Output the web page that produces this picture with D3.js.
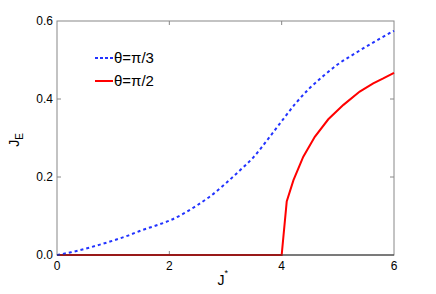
<!DOCTYPE html>
<html>
<head>
<meta charset="utf-8">
<script src="https://cdn.jsdelivr.net/npm/d3@7"></script>
<style>
  body { margin: 0; background: #fff; }
  text { font-family: "Liberation Sans", Arial, sans-serif; fill: #000; }
</style>
</head>
<body>
<div id="grafico"></div>
<script>
// data
const jBlue   = [0, 0.25, 0.5, 0.75, 1.0, 1.25, 1.5, 1.75, 2.0, 2.25, 2.5, 2.75, 3.0, 3.25, 3.5, 3.75, 4.0, 4.25, 4.5, 4.75, 5.0, 5.25, 5.5, 5.75, 6.0];
const eBlue   = [0, 0.007, 0.016, 0.026, 0.037, 0.049, 0.063, 0.075, 0.088, 0.106, 0.128, 0.153, 0.183, 0.216, 0.251, 0.296, 0.343, 0.389, 0.428, 0.460, 0.489, 0.512, 0.534, 0.555, 0.575];

const jRed    = [0, 4.0, 4.09, 4.21, 4.385, 4.59, 4.83, 5.10, 5.39, 5.63, 5.80, 6.0];
const eRed    = [0, 0, 0.137, 0.192, 0.252, 0.303, 0.348, 0.385, 0.419, 0.440, 0.452, 0.467];

const xTicks  = [0, 2, 4, 6];
const yTicks  = [0, 0.2, 0.4, 0.6];
const legendLabels = ["θ=π/3", "θ=π/2"];

const margin = { top: 21, left: 57, bottom: 39, right: 42 };
const width  = 436 - margin.left - margin.right;
const height = 294 - margin.top - margin.bottom;

const svg = d3.select("#grafico")
              .append("svg")
              .attr("width", 436)
              .attr("height", 294)
              .append("g")
              .attr("transform", `translate(${margin.left}, ${margin.top})`);

const xScale = d3.scaleLinear().domain([0, 6]).range([0, width]);
const yScale = d3.scaleLinear().domain([0, 0.6]).range([height, 0]);

// box
svg.append("rect")
   .attr("width", width)
   .attr("height", height)
   .attr("fill", "none")
   .attr("stroke", "#888")
   .attr("stroke-width", 1);

// inward ticks on all sides
const tickLen = 4;
xTicks.slice(1, -1).forEach(t => {
    svg.append("line").attr("x1", xScale(t)).attr("x2", xScale(t))
       .attr("y1", height).attr("y2", height - tickLen).attr("stroke", "#888");
    svg.append("line").attr("x1", xScale(t)).attr("x2", xScale(t))
       .attr("y1", 0).attr("y2", tickLen).attr("stroke", "#888");
});
yTicks.slice(1, -1).forEach(t => {
    svg.append("line").attr("x1", 0).attr("x2", tickLen)
       .attr("y1", yScale(t)).attr("y2", yScale(t)).attr("stroke", "#888");
    svg.append("line").attr("x1", width).attr("x2", width - tickLen)
       .attr("y1", yScale(t)).attr("y2", yScale(t)).attr("stroke", "#888");
});

// tick labels
svg.selectAll(".xl")
   .data(xTicks)
   .join("text")
   .attr("x", d => xScale(d))
   .attr("y", height + 15)
   .attr("text-anchor", "middle")
   .style("font-size", "12px")
   .text(d => d);

svg.selectAll(".yl")
   .data(yTicks)
   .join("text")
   .attr("x", -4)
   .attr("y", d => yScale(d) + 4)
   .attr("text-anchor", "end")
   .style("font-size", "12px")
   .text(d => d.toFixed(1));

// curves
const blue = jBlue.map((j, i) => [j, eBlue[i]]);
const red  = jRed.map((j, i) => [j, eRed[i]]);

const line = d3.line()
               .x(d => xScale(d[0]))
               .y(d => yScale(d[1]));

svg.append("path")
   .datum(red)
   .attr("d", line)
   .attr("fill", "none")
   .attr("stroke", "#ff0000")
   .attr("stroke-width", 2);

svg.append("path")
   .datum(blue)
   .attr("d", line.curve(d3.curveMonotoneX))
   .attr("fill", "none")
   .attr("stroke", "#2233ff")
   .attr("stroke-width", 2)
   .attr("stroke-dasharray", "3,3");

// bottom axis drawn darker over the red baseline
svg.append("line")
   .attr("x1", 0).attr("x2", width)
   .attr("y1", height).attr("y2", height)
   .attr("stroke", "#333");

// legend
const legend = svg.append("g").attr("transform", "translate(38, 37)");
const legendStyles = [
    { color: "#2233ff", dash: "3,2" },
    { color: "#ff0000", dash: null }
];
legendLabels.forEach((lab, i) => {
    const y = i * 23;
    legend.append("line")
          .attr("x1", 0).attr("x2", 18)
          .attr("y1", y).attr("y2", y)
          .attr("stroke", legendStyles[i].color)
          .attr("stroke-width", 2)
          .attr("stroke-dasharray", legendStyles[i].dash);
    legend.append("text")
          .attr("x", 19)
          .attr("y", y + 5)
          .style("font-size", "15px")
          .text(lab);
});

// axis labels
const yl = svg.append("text")
   .attr("transform", `translate(-38, ${height / 2 + 2}) rotate(-90)`)
   .attr("text-anchor", "middle")
   .style("font-size", "14px");
yl.append("tspan").text("J");
yl.append("tspan").attr("dy", 4).style("font-size", "10px").text("E");

const xl = svg.append("text")
   .attr("x", xScale(2.95))
   .attr("y", height + 30)
   .attr("text-anchor", "middle")
   .style("font-size", "14px");
xl.append("tspan").text("J");
xl.append("tspan").attr("dy", -9).style("font-size", "9px").text("*");
</script>
</body>
</html>
